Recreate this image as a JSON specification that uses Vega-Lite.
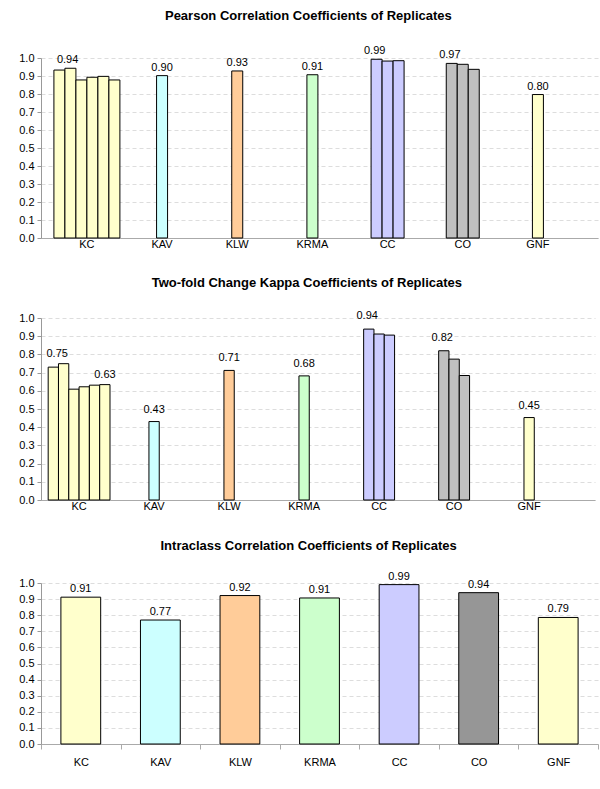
{
  "$schema": "https://vega.github.io/schema/vega-lite/v6.json",
  "padding": {"left": 18, "top": 10, "right": 3, "bottom": 0},
  "config": {
    "font": "Liberation Sans",
    "view": {"stroke": null},
    "title": {"fontSize": 13, "fontWeight": "bold", "color": "#000", "font": "Liberation Sans", "frame": "bounds"},
    "axis": {"labelFont": "Liberation Sans", "labelFontSize": 11, "labelColor": "#000", "domainColor": "#999", "tickColor": "#999", "title": null},
    "concat": {"spacing": 28}
  },
  "resolve": {"scale": {"color": "independent"}},
  "datasets": {
    "pearson": [
      {"group": "KC", "rep": 1, "value": 0.933, "label": ""},
      {"group": "KC", "rep": 2, "value": 0.943, "label": "0.94"},
      {"group": "KC", "rep": 3, "value": 0.878, "label": ""},
      {"group": "KC", "rep": 4, "value": 0.893, "label": ""},
      {"group": "KC", "rep": 5, "value": 0.898, "label": ""},
      {"group": "KC", "rep": 6, "value": 0.878, "label": ""},
      {"group": "KAV", "rep": 1, "value": 0.902, "label": "0.90"},
      {"group": "KLW", "rep": 1, "value": 0.928, "label": "0.93"},
      {"group": "KRMA", "rep": 1, "value": 0.907, "label": "0.91"},
      {"group": "CC", "rep": 1, "value": 0.993, "label": "0.99"},
      {"group": "CC", "rep": 2, "value": 0.983, "label": ""},
      {"group": "CC", "rep": 3, "value": 0.985, "label": ""},
      {"group": "CO", "rep": 1, "value": 0.970, "label": "0.97"},
      {"group": "CO", "rep": 2, "value": 0.965, "label": ""},
      {"group": "CO", "rep": 3, "value": 0.937, "label": ""},
      {"group": "GNF", "rep": 1, "value": 0.797, "label": "0.80"}
    ],
    "kappa": [
      {"group": "KC", "rep": 1, "value": 0.730, "label": ""},
      {"group": "KC", "rep": 2, "value": 0.749, "label": "0.75"},
      {"group": "KC", "rep": 3, "value": 0.609, "label": ""},
      {"group": "KC", "rep": 4, "value": 0.622, "label": ""},
      {"group": "KC", "rep": 5, "value": 0.631, "label": ""},
      {"group": "KC", "rep": 6, "value": 0.634, "label": "0.63"},
      {"group": "KAV", "rep": 1, "value": 0.431, "label": "0.43"},
      {"group": "KLW", "rep": 1, "value": 0.712, "label": "0.71"},
      {"group": "KRMA", "rep": 1, "value": 0.682, "label": "0.68"},
      {"group": "CC", "rep": 1, "value": 0.939, "label": "0.94"},
      {"group": "CC", "rep": 2, "value": 0.912, "label": ""},
      {"group": "CC", "rep": 3, "value": 0.906, "label": ""},
      {"group": "CO", "rep": 1, "value": 0.820, "label": "0.82"},
      {"group": "CO", "rep": 2, "value": 0.774, "label": ""},
      {"group": "CO", "rep": 3, "value": 0.684, "label": ""},
      {"group": "GNF", "rep": 1, "value": 0.453, "label": "0.45"}
    ],
    "icc": [
      {"group": "KC", "value": 0.912, "label": "0.91"},
      {"group": "KAV", "value": 0.770, "label": "0.77"},
      {"group": "KLW", "value": 0.922, "label": "0.92"},
      {"group": "KRMA", "value": 0.907, "label": "0.91"},
      {"group": "CC", "value": 0.990, "label": "0.99"},
      {"group": "CO", "value": 0.940, "label": "0.94"},
      {"group": "GNF", "value": 0.786, "label": "0.79"}
    ]
  },
  "vconcat": [
    {
      "title": {"text": "Pearson Correlation Coefficients of Replicates", "offset": 22},
      "width": 557,
      "height": 180,
      "data": {"name": "pearson"},
      "encoding": {
        "x": {"field": "group", "type": "nominal", "sort": ["KC", "KAV", "KLW", "KRMA", "CC", "CO", "GNF"],
              "scale": {"paddingInner": 0, "paddingOuter": 0.205, "align": 0.27},
              "axis": {"ticks": false, "labelAngle": 0, "labelPadding": 0, "domainColor": "#aaa"}},
        "y": {"field": "value", "type": "quantitative", "scale": {"domain": [0, 1], "nice": false},
              "axis": {"values": [0, 0.1, 0.2, 0.3, 0.4, 0.5, 0.6, 0.7, 0.8, 0.9, 1.0], "format": ".1f", "grid": true, "gridDash": [4, 3], "gridColor": "#dddddd", "tickSize": 4, "labelPadding": 3}},
        "color": {"field": "group", "type": "nominal",
                  "scale": {"domain": ["KC", "KAV", "KLW", "KRMA", "CC", "CO", "GNF"], "range": ["#FFFFCC", "#CCFFFF", "#FFCC99", "#CCFFCC", "#CCCCFF", "#C0C0C0", "#FFFFCC"]},
                  "legend": null}
      },
      "layer": [
        {"transform": [{"filter": {"field": "group", "oneOf": ["KC"]}}],
         "mark": {"type": "bar", "stroke": "#000", "strokeWidth": 1},
         "encoding": {"xOffset": {"field": "rep", "type": "nominal", "scale": {"domain": [1, 2, 3, 4, 5, 6], "paddingInner": 0, "paddingOuter": 0.417}}}},
        {"transform": [{"filter": {"field": "group", "oneOf": ["KC"]}}, {"filter": "datum.label != ''"}],
         "mark": {"type": "text", "baseline": "bottom", "dy": -3, "fontSize": 11},
         "encoding": {"xOffset": {"field": "rep", "type": "nominal", "scale": {"domain": [1, 2, 3, 4, 5, 6], "paddingInner": 0, "paddingOuter": 0.417}}, "text": {"field": "label"}, "color": {"value": "#000"}}},
        {"transform": [{"filter": {"field": "group", "oneOf": ["CC", "CO"]}}],
         "mark": {"type": "bar", "stroke": "#000", "strokeWidth": 1},
         "encoding": {"xOffset": {"field": "rep", "type": "nominal", "scale": {"domain": [0, 1, 2, 3, 4], "paddingInner": 0, "paddingOuter": 0.917}}}},
        {"transform": [{"filter": {"field": "group", "oneOf": ["CC", "CO"]}}, {"filter": "datum.label != ''"}],
         "mark": {"type": "text", "baseline": "bottom", "dy": -3, "fontSize": 11},
         "encoding": {"xOffset": {"field": "rep", "type": "nominal", "scale": {"domain": [0, 1, 2, 3, 4], "paddingInner": 0, "paddingOuter": 0.917}}, "text": {"field": "label"}, "color": {"value": "#000"}}},
        {"transform": [{"filter": {"field": "group", "oneOf": ["KAV", "KLW", "KRMA", "GNF"]}}],
         "mark": {"type": "bar", "stroke": "#000", "strokeWidth": 1},
         "encoding": {"xOffset": {"field": "rep", "type": "nominal", "scale": {"domain": [-1, 0, 1, 2, 3], "paddingInner": 0, "paddingOuter": 0.917}}}},
        {"transform": [{"filter": {"field": "group", "oneOf": ["KAV", "KLW", "KRMA", "GNF"]}}],
         "mark": {"type": "text", "baseline": "bottom", "dy": -3, "fontSize": 11},
         "encoding": {"xOffset": {"field": "rep", "type": "nominal", "scale": {"domain": [-1, 0, 1, 2, 3], "paddingInner": 0, "paddingOuter": 0.917}}, "text": {"field": "label"}, "color": {"value": "#000"}}}
      ],
      "resolve": {"scale": {"xOffset": "independent"}}
    },
    {
      "title": {"text": "Two-fold Change Kappa Coefficients of Replicates", "offset": 20},
      "width": 554,
      "height": 182,
      "data": {"name": "kappa"},
      "encoding": {
        "x": {"field": "group", "type": "nominal", "sort": ["KC", "KAV", "KLW", "KRMA", "CC", "CO", "GNF"],
              "scale": {"paddingInner": 0, "paddingOuter": 0.193, "align": 0.02},
              "axis": {"ticks": false, "labelAngle": 0, "labelPadding": 0, "domainColor": "#aaa"}},
        "y": {"field": "value", "type": "quantitative", "scale": {"domain": [0, 1], "nice": false},
              "axis": {"values": [0, 0.1, 0.2, 0.3, 0.4, 0.5, 0.6, 0.7, 0.8, 0.9, 1.0], "format": ".1f", "grid": true, "gridDash": [4, 3], "gridColor": "#dddddd", "tickSize": 4, "labelPadding": 3}},
        "color": {"field": "group", "type": "nominal",
                  "scale": {"domain": ["KC", "KAV", "KLW", "KRMA", "CC", "CO", "GNF"], "range": ["#FFFFCC", "#CCFFFF", "#FFCC99", "#CCFFCC", "#CCCCFF", "#C0C0C0", "#FFFFCC"]},
                  "legend": null}
      },
      "layer": [
        {"transform": [{"filter": {"field": "group", "oneOf": ["KC"]}}],
         "mark": {"type": "bar", "stroke": "#000", "strokeWidth": 1},
         "encoding": {"xOffset": {"field": "rep", "type": "nominal", "scale": {"domain": [1, 2, 3, 4, 5, 6], "paddingInner": 0, "paddingOuter": 0.64}}}},
        {"transform": [{"filter": {"field": "group", "oneOf": ["KC"]}}, {"filter": "datum.label != ''"}],
         "mark": {"type": "text", "baseline": "bottom", "dy": -5, "dx": -4, "fontSize": 11},
         "encoding": {"xOffset": {"field": "rep", "type": "nominal", "scale": {"domain": [1, 2, 3, 4, 5, 6], "paddingInner": 0, "paddingOuter": 0.64}}, "text": {"field": "label"}, "color": {"value": "#000"}}},
        {"transform": [{"filter": {"field": "group", "oneOf": ["CC", "CO"]}}],
         "mark": {"type": "bar", "stroke": "#000", "strokeWidth": 1},
         "encoding": {"xOffset": {"field": "rep", "type": "nominal", "scale": {"domain": [-1, 0, 1, 2, 3, 4, 5], "paddingInner": 0, "paddingOuter": 0.14}}}},
        {"transform": [{"filter": {"field": "group", "oneOf": ["CC", "CO"]}}, {"filter": "datum.label != ''"}],
         "mark": {"type": "text", "baseline": "bottom", "dy": -8, "fontSize": 11},
         "encoding": {"xOffset": {"field": "rep", "type": "nominal", "scale": {"domain": [-1, 0, 1, 2, 3, 4, 5], "paddingInner": 0, "paddingOuter": 0.14}}, "text": {"field": "label"}, "color": {"value": "#000"}}},
        {"transform": [{"filter": {"field": "group", "oneOf": ["KAV", "KLW", "KRMA", "GNF"]}}],
         "mark": {"type": "bar", "stroke": "#000", "strokeWidth": 1},
         "encoding": {"xOffset": {"field": "rep", "type": "nominal", "scale": {"domain": [-2, -1, 0, 1, 2, 3, 4], "paddingInner": 0, "paddingOuter": 0.14}}}},
        {"transform": [{"filter": {"field": "group", "oneOf": ["KAV", "KLW", "KRMA", "GNF"]}}],
         "mark": {"type": "text", "baseline": "bottom", "dy": -7, "fontSize": 11},
         "encoding": {"xOffset": {"field": "rep", "type": "nominal", "scale": {"domain": [-2, -1, 0, 1, 2, 3, 4], "paddingInner": 0, "paddingOuter": 0.14}}, "text": {"field": "label"}, "color": {"value": "#000"}}}
      ],
      "resolve": {"scale": {"xOffset": "independent"}}
    },
    {
      "title": {"text": "Intraclass Correlation Coefficients of Replicates", "offset": 18},
      "width": 557,
      "height": 161,
      "data": {"name": "icc"},
      "encoding": {
        "x": {"field": "group", "type": "nominal", "sort": ["KC", "KAV", "KLW", "KRMA", "CC", "CO", "GNF"],
              "scale": {"paddingInner": 0, "paddingOuter": 0},
              "axis": {"tickBand": "extent", "tickSize": 5, "labelAngle": 0, "labelPadding": 7, "domainColor": "#aaa", "tickColor": "#aaa"}},
        "y": {"field": "value", "type": "quantitative", "scale": {"domain": [0, 1], "nice": false},
              "axis": {"values": [0, 0.1, 0.2, 0.3, 0.4, 0.5, 0.6, 0.7, 0.8, 0.9, 1.0], "format": ".1f", "grid": true, "gridDash": [4, 3], "gridColor": "#dddddd", "tickSize": 4, "labelPadding": 3}},
        "color": {"field": "group", "type": "nominal",
                  "scale": {"domain": ["KC", "KAV", "KLW", "KRMA", "CC", "CO", "GNF"], "range": ["#FFFFCC", "#CCFFFF", "#FFCC99", "#CCFFCC", "#CCCCFF", "#969696", "#FFFFCC"]},
                  "legend": null}
      },
      "layer": [
        {"mark": {"type": "bar", "stroke": "#000", "strokeWidth": 1, "width": {"band": 0.5}}},
        {"mark": {"type": "text", "baseline": "bottom", "dy": -3, "fontSize": 11},
         "encoding": {"text": {"field": "label"}, "color": {"value": "#000"}}}
      ]
    }
  ]
}
